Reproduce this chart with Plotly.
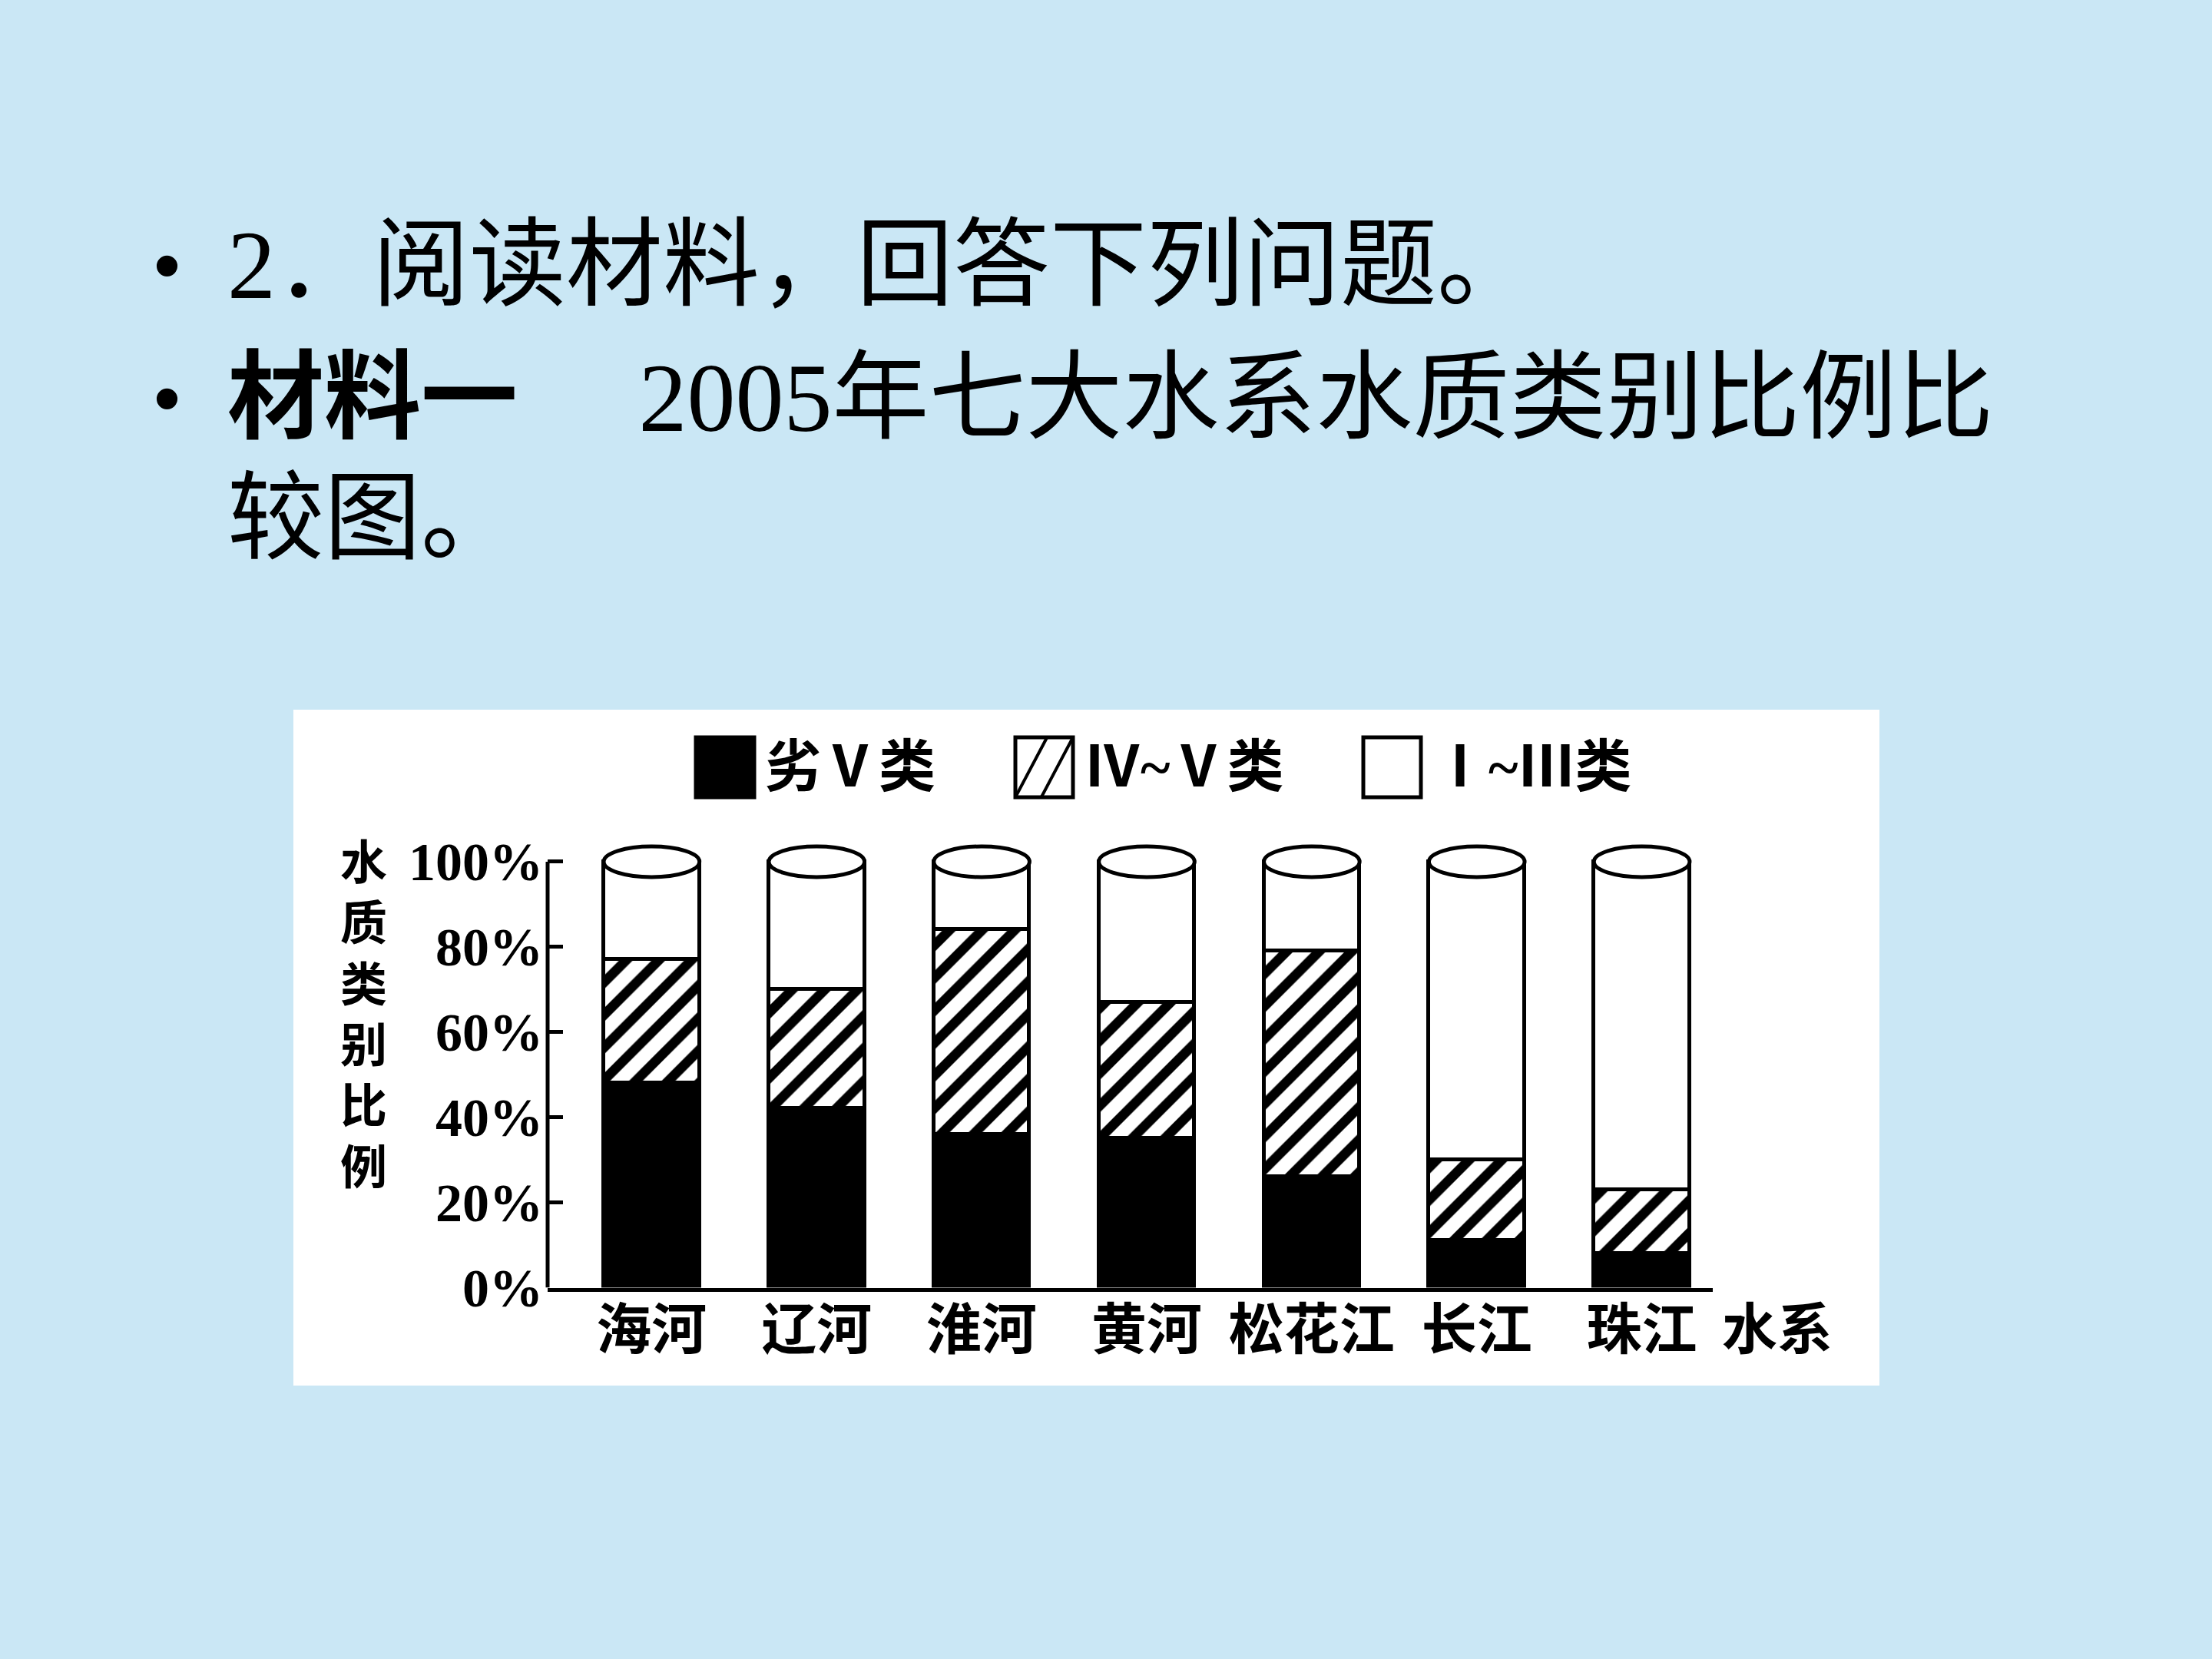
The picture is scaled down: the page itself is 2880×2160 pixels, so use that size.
import plotly.graph_objects as go

# ---- data ----
categories = ["海河", "辽河", "淮河", "黄河", "松花江", "长江", "珠江"]
worse_v = [48, 42, 36, 35, 26, 11, 8]        # 劣Ⅴ类
iv_v = [29, 28, 48, 32, 53, 19, 15]          # Ⅳ~Ⅴ类
i_iii = [23, 30, 16, 33, 21, 70, 77]         # Ⅰ~Ⅲ类
series_names = ["劣Ⅴ类", "Ⅳ~Ⅴ类", "Ⅰ~Ⅲ类"]
y_ticks = [0, 20, 40, 60, 80, 100]
y_title = "水质类别比例"
x_title = "水系"
line1 = "2．阅读材料，回答下列问题。"
line2_bold = "材料一"
line2_rest = "2005年七大水系水质类别比例比"
line3 = "较图。"

W, H = 2880, 2160
BG = "#cae7f5"
CJK = "Liberation Serif, Noto Sans CJK SC"
BAR_W = 0.58
OUT = 5

xs = list(range(len(categories)))

fig = go.Figure()
fig.add_trace(go.Bar(
    x=xs, y=worse_v, name=series_names[0], width=BAR_W,
    marker=dict(color="black", line=dict(color="black", width=OUT)),
))
fig.add_trace(go.Bar(
    x=xs, y=iv_v, name=series_names[1], width=BAR_W,
    marker=dict(color="white", line=dict(color="black", width=OUT),
                pattern=dict(shape="/", fgcolor="black", bgcolor="white",
                             size=30, solidity=0.42, fillmode="replace")),
))
fig.add_trace(go.Bar(
    x=xs, y=i_iii, name=series_names[2], width=BAR_W,
    marker=dict(color="white", line=dict(color="black", width=OUT)),
))

shapes = []
# white chart panel
shapes.append(dict(type="rect", xref="paper", yref="paper",
                   x0=382 / W, x1=2447 / W, y0=1 - 1804 / H, y1=1 - 924 / H,
                   fillcolor="white", line=dict(width=0), layer="below"))
# y axis line (0..100 only)
shapes.append(dict(type="line", xref="x domain", yref="y", x0=0, x1=0,
                   y0=y_ticks[0], y1=y_ticks[-1], line=dict(color="black", width=OUT)))
# cylinder caps computed from bar totals
for i in xs:
    tot = worse_v[i] + iv_v[i] + i_iii[i]
    shapes.append(dict(type="circle", xref="x", yref="y",
                       x0=i - BAR_W / 2, x1=i + BAR_W / 2, y0=tot - 3.6, y1=tot + 3.6,
                       fillcolor="white", line=dict(color="black", width=OUT)))

# custom legend boxes
leg_y0, leg_y1 = 1 - 1038 / H, 1 - 960 / H
leg_boxes = [(906, 982), (1322, 1397), (1775, 1850)]
shapes.append(dict(type="rect", xref="paper", yref="paper",
                   x0=leg_boxes[0][0] / W, x1=leg_boxes[0][1] / W, y0=leg_y0, y1=leg_y1,
                   fillcolor="black", line=dict(color="black", width=OUT)))
shapes.append(dict(type="rect", xref="paper", yref="paper",
                   x0=leg_boxes[1][0] / W, x1=leg_boxes[1][1] / W, y0=leg_y0, y1=leg_y1,
                   fillcolor="white", line=dict(color="black", width=OUT)))
bx0, bx1 = leg_boxes[1]
for a, b in [(0.0, 0.55), (0.45, 1.0)]:
    shapes.append(dict(type="line", xref="paper", yref="paper",
                       x0=(bx0 + (bx1 - bx0) * a) / W, x1=(bx0 + (bx1 - bx0) * b) / W,
                       y0=leg_y0, y1=leg_y1, line=dict(color="black", width=4)))
shapes.append(dict(type="rect", xref="paper", yref="paper",
                   x0=leg_boxes[2][0] / W, x1=leg_boxes[2][1] / W, y0=leg_y0, y1=leg_y1,
                   fillcolor="white", line=dict(color="black", width=OUT)))

annotations = []
for (_, ex), name in zip(leg_boxes, series_names):
    annotations.append(dict(xref="paper", yref="paper", x=(ex + 12) / W, y=1 - 999 / H,
                            xanchor="left", yanchor="middle", showarrow=False, text=name,
                            font=dict(family=CJK, size=74, color="black", weight="bold")))
annotations.append(dict(xref="paper", yref="paper", x=473 / W, y=1 - 1323 / H,
                        xanchor="center", yanchor="middle", showarrow=False,
                        text="<br>".join(list(y_title)),
                        font=dict(family=CJK, size=61, color="black", weight="bold")))
annotations.append(dict(xref="paper", yref="paper", x=2314 / W, y=1 - 1732 / H,
                        xanchor="center", yanchor="middle", showarrow=False, text=x_title,
                        font=dict(family=CJK, size=72, color="black", weight="bold")))
TF = dict(family=CJK, size=126, color="black")
annotations.append(dict(xref="paper", yref="paper", x=294 / W, y=1 - 345 / H,
                        xanchor="left", yanchor="middle", showarrow=False, text=line1, font=TF))
annotations.append(dict(xref="paper", yref="paper", x=294 / W, y=1 - 518 / H,
                        xanchor="left", yanchor="middle", showarrow=False,
                        text="<b>" + line2_bold + "</b>　 " + line2_rest, font=TF))
annotations.append(dict(xref="paper", yref="paper", x=294 / W, y=1 - 676 / H,
                        xanchor="left", yanchor="middle", showarrow=False, text=line3, font=TF))
for yy in (345, 518):
    annotations.append(dict(xref="paper", yref="paper", x=217 / W, y=1 - yy / H,
                            xanchor="center", yanchor="middle", showarrow=False, text="•",
                            font=dict(family="Liberation Sans", size=100, color="black")))

y0_px, px_per = 1676.6, 5.546
y_max = 112
fig.update_layout(
    width=W, height=H,
    margin=dict(l=0, r=0, t=0, b=0, pad=0, autoexpand=False),
    paper_bgcolor=BG, plot_bgcolor="white",
    barmode="stack", bargap=0, showlegend=False,
    shapes=shapes, annotations=annotations,
    xaxis=dict(domain=[713 / W, 2230 / W], range=[-0.63, 6.43], automargin=False,
               tickvals=xs, ticktext=categories, showline=True, linecolor="black",
               linewidth=OUT, ticks="", showgrid=False, zeroline=False,
               ticklabelstandoff=-12,
               tickfont=dict(family=CJK, size=72, color="black", weight="bold")),
    yaxis=dict(domain=[1 - y0_px / H, 1 - (y0_px - y_max * px_per) / H], range=[0, y_max],
               automargin=False,
               tickvals=y_ticks, ticktext=[f"{v}%" for v in y_ticks],
               ticks="inside", ticklen=20, tickwidth=OUT, tickcolor="black",
               showline=False, showgrid=False, zeroline=False, ticklabelstandoff=5,
               tickfont=dict(family="Liberation Serif", size=70, color="black", weight="bold")),
)

fig.write_html(
    "out.html",
    post_script="document.body.style.margin='0';",
)
